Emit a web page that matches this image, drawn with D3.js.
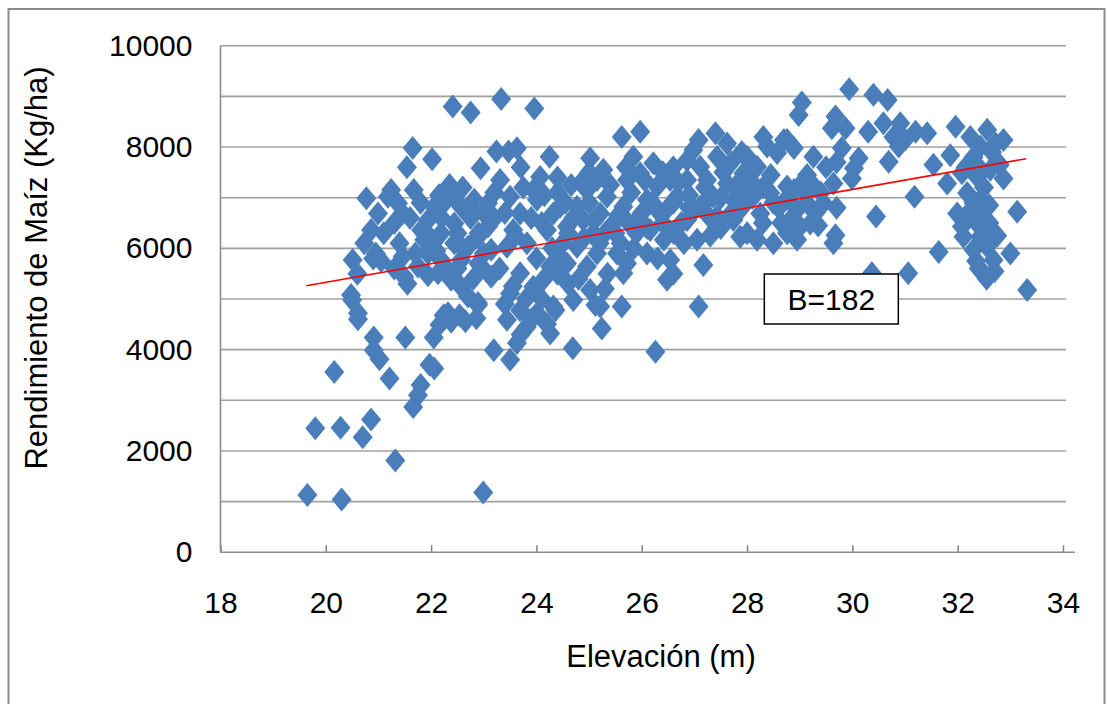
<!DOCTYPE html>
<html><head><meta charset="utf-8">
<script src="https://cdn.jsdelivr.net/npm/d3@7/dist/d3.min.js"></script>
<style>
body{margin:0;background:#fff;}
svg text{font-family:"Liberation Sans",Arial,sans-serif;fill:#000;}
</style></head>
<body><svg id="c" width="1108" height="704"></svg>
<script>
// Elevación (m) / Rendimiento (Kg/ha) pairs
const grupoIzquierdo = [
[19.65,1130],[19.8,2450],[20.3,1040],[20.28,2460],[20.16,3560],[20.5,4980],[20.61,4600],[20.51,5770],[20.48,5080],[20.7,2270],
[20.86,2620],[20.91,4240],[20.91,3990],[21.02,3810],[21.21,3430],[21.32,1810],[21.51,4240],[21.66,2870],[21.75,3100],[21.8,3300],
[21.97,3700],[22.06,3630],[22.05,4240],[22.16,4490],[22.24,4680],[22.38,4550],[22.54,4680],[22.86,4620],[22.89,4880],[22.99,1180],
[23.19,3990],[22.41,8800],[22.75,8680],[21.65,7980],[22.02,7760],[21.54,7600],[20.77,6990],[21.24,7150],[21.67,7150],[22.94,7580],
[20.61,4720],[20.73,6100],[20.86,6360],[20.99,6690],[21.18,7020],[21.37,6890],[21.46,6690],[21.46,5840],[21.49,5440],[21.75,5640],
[21.94,5470],[22.13,5510],[22.38,5380],[22.57,5240],[22.7,5050],[22.32,4720],[22.89,4920],[22.95,5640],[23.14,5440],[21.81,6360],
[21.94,6560],[21.87,6170],[22.06,6820],[22.32,7150],[22.44,7020],[22.57,6820],[22.82,6960],[23.08,6890],[22.44,6490],[22.19,6300],
[22.44,6100],[22.7,6030],[22.89,6230],[23.08,6430],[23.14,5970],[22.57,5770],[22.19,5770],[21.94,5900],
[20.6,5500],[20.95,5900],[21.1,6300],[21.3,5600],[21.6,6600],[21.7,5900],[22.0,6200],[22.25,6900],[22.3,5600],[22.5,6300],
[22.6,7200],[22.75,6600],[22.8,5400],[23.0,6700],[23.0,5900],[22.15,7050],[21.55,5300],[22.65,4560],[22.9,6300],[21.05,5750],
[22.35,7250],[20.9,5800],
[22.2,6600],[22.6,6000],[22.8,6750],[23.2,6600],[22.1,5950],[21.8,6900],[22.5,5600],[21.3,6500],[21.4,6100],[22.9,5700],
[23.2,7100]
];
const grupoCentral = [
[23.33,8950],[23.96,8760],[25.62,8200],[25.97,8300],[27.08,8140],[27.4,8270],[28.31,8200],[23.63,7975],[24.25,7810],[25.02,7780],
[24.66,7250],[23.47,7910],[23.24,7910],
[23.31,7350],[23.5,7020],[23.69,6690],[23.56,6360],[23.44,6030],[23.82,6100],[23.94,7150],[24.07,7410],[24.01,6960],[24.32,6690],
[24.2,6360],[24.45,6820],[24.58,6430],[24.77,6820],[24.89,6560],[24.96,7150],[25.15,7350],[25.27,7550],[25.34,7020],[25.21,6690],
[25.08,6300],[25.46,6490],[25.65,6820],[25.72,7350],[25.84,7810],[25.97,7480],[26.22,7680],[26.29,7220],[26.1,6960],[25.91,6560],
[26.35,6690],[26.54,7350],[26.67,7020],[26.86,7350],[26.86,7740],[26.98,7940],[27.11,7610],[27.24,7350],[27.43,7810],[27.62,8070],
[27.36,7020],[27.11,6820],[26.86,6560],[26.61,6300],[26.42,6170],[26.16,6360],[27.62,7280],[27.74,6960],[28.0,7810],[27.93,7480],
[28.19,7610],[28.38,8010],[28.57,7880],[28.7,8140],[28.76,7220],[28.44,7090],[28.25,6690],[28.0,6300],[28.19,6170],[28.5,6100],
[28.76,6300],[27.74,6560],[27.43,6630],[27.05,6170],[27.17,5670],[26.48,5380],[26.54,5770],[26.1,5900],[25.72,5700],[25.53,5900],
[25.65,5510],[25.15,5900],[24.96,5640],[24.77,6030],[24.58,5700],[24.39,5900],[24.26,5640],[24.13,5380],[23.94,5240],[23.69,5510],
[23.5,5110],[23.69,4780],[24.32,4850],[24.7,4980],[25.02,5180],[25.21,4850],[25.62,4850],[27.08,4850],[27.87,6230],
[23.5,3800],[23.63,4130],[23.44,4590],[23.82,4450],[24.01,4720],[24.26,4320],[24.36,4780],[24.69,4030],[25.12,4880],[25.24,4420],
[26.26,3960],
[23.4,6700],[23.75,7200],[24.1,6500],[24.4,7100],[24.5,6100],[24.7,6600],[24.85,7300],[25.0,6900],[25.3,6300],[25.4,7250],
[25.55,6650],[25.8,7100],[25.9,6300],[26.05,7350],[26.2,6900],[26.4,7500],[26.5,6800],[26.7,7300],[26.75,6500],[26.9,7050],
[27.0,6750],[27.2,7200],[27.3,6600],[27.5,7000],[27.55,7500],[27.8,7250],[27.9,6800],[28.1,7300],[28.3,6500],[28.45,7450],
[28.6,6800],[28.65,6500],[24.0,5800],[24.6,5300],[25.35,5500],[25.85,6000],[26.3,5800],[26.6,5500],[23.6,6250],[23.9,6600],
[24.15,7050],[24.55,6900],[25.1,6550],[25.6,6100],[26.0,6700],[26.8,6100],[27.3,6250],[27.7,7700],[28.1,7000],[23.7,7600],
[23.55,5250],[23.7,4300],[23.9,4600],[24.1,5000],[24.2,4500],[23.8,5000],
[24.3,6000],[24.6,6300],[24.9,6200],[25.2,6100],[25.5,6300],[25.75,6500],[26.1,6400],[26.4,6500],[26.6,6900],[26.9,6800],
[27.2,6900],[27.5,6400],[27.7,6700],[27.95,7100],[28.3,7200],[28.5,6900],[24.4,7400],[25.0,7500],[25.7,7600],[26.6,7600],
[27.9,7900],[23.3,5600],[23.4,4900],[24.4,5500],[24.8,5400],[25.3,5200]
];
const grupoDerecho = [
[29.94,9140],[30.4,9030],[30.67,8930],[29.04,8880],[28.98,8630],[29.68,8600],[29.61,8370],[29.87,8370],[30.59,8470],[30.91,8470],
[31.2,8300],[31.42,8270],[30.78,8200],[30.88,8010],[31.96,8400],[32.24,8200],[32.56,8340],[32.87,8140],[32.43,8010],[32.72,8070],
[28.76,8140],[28.89,7980],[29.26,7810],[29.8,7980],[30.12,7780],[30.03,7580],[30.69,7710],[31.54,7650],[31.86,7840],[29.14,7450],
[29.01,7250],[28.89,7150],[28.76,6990],[29.64,7280],[29.99,7380],[29.45,6890],[29.14,6890],[28.95,6760],[29.01,6430],[29.2,6490],
[28.82,6360],[28.95,6170],[29.68,6260],[29.64,6100],[30.45,6630],[31.18,7020],[31.8,7280],[32.08,7480],[32.37,7410],[32.62,7550],
[32.87,7380],[32.18,7090],[32.43,6960],[32.49,6760],[31.99,6690],[32.08,6430],[32.37,6490],[32.43,6230],[32.11,6230],[32.3,5970],
[32.56,6030],[32.68,5770],[32.49,5510],[33.0,5900],[33.13,6720],[33.32,5180],[31.64,5930],[31.06,5510],[30.37,5510],
[32.2,6700],[32.5,7200],[32.6,6500],[32.35,5750],[32.75,6250],[32.3,7800],[32.65,7900],[32.55,5400],[32.8,7650],[32.15,7600],
[32.4,5600],[32.7,5550],[29.1,7100],[29.3,6700],[29.25,7250],[28.85,6600],[29.5,7600],[29.7,7700],[30.3,8300],[31.0,8150],
[29.4,7100],[29.35,6450],[29.7,6800],[32.3,6900],[32.5,6350],[32.6,6850],[32.4,7600]
];
const tendenciaX = [19.63, 33.30];
const tendenciaY = [5260, 7770];
const ticksX = [18,20,22,24,26,28,30,32,34];
const ticksY = [0,2000,4000,6000,8000,10000];
const lineasY = [1000,2000,3000,4000,5000,6000,7000,8000,9000,10000];
const etiquetaB = "B=182";
const posB = [29.6, 5000];

const svg = d3.select("#c");
const x = d3.scaleLinear().domain([18,34]).range([220.5,1063]);
const y = d3.scaleLinear().domain([0,10000]).range([552.3,45.7]);

// outer border
svg.append("rect").attr("x",8.5).attr("y",9).attr("width",1096).attr("height",710)
  .attr("fill","none").attr("stroke","#8c8c8c").attr("stroke-width",2);

// gridlines
svg.append("g").selectAll("line").data(lineasY).join("line")
  .attr("x1",x(18)).attr("x2",1066).attr("y1",d=>y(d)).attr("y2",d=>y(d))
  .attr("stroke","#a0a0a0").attr("stroke-width",1.6);

// axes
const gx = svg.append("g").attr("transform",`translate(0,${y(0)})`)
  .call(d3.axisBottom(x).tickValues(ticksX).tickSize(-7).tickSizeOuter(0).tickPadding(39).tickFormat(d3.format("d")));
gx.select(".domain").remove();
gx.selectAll(".tick line").attr("stroke","#808080").attr("stroke-width",1.5);
gx.selectAll(".tick text").attr("font-size",30).style("font-family","Liberation Sans, Arial, sans-serif");
svg.append("line").attr("x1",x(18)).attr("x2",1075).attr("y1",y(0)).attr("y2",y(0))
  .attr("stroke","#8c8c8c").attr("stroke-width",1.6);

const gy = svg.append("g").attr("transform",`translate(${x(18)},0)`)
  .call(d3.axisLeft(y).tickValues(ticksY).tickSize(0).tickPadding(28).tickFormat(d3.format("d")));
gy.select(".domain").remove();
gy.selectAll(".tick text").attr("font-size",30).style("font-family","Liberation Sans, Arial, sans-serif");
svg.append("line").attr("x1",x(18)).attr("x2",x(18)).attr("y1",y(10000)).attr("y2",y(0))
  .attr("stroke","#8c8c8c").attr("stroke-width",1.6);

// points
const diamond = "M0,-12L10,0L0,12L-10,0Z";
const todos = grupoIzquierdo.concat(grupoCentral, grupoDerecho);
svg.append("g").selectAll("path").data(todos).join("path")
  .attr("d",diamond)
  .attr("transform",d=>`translate(${x(d[0])},${y(d[1])})`)
  .attr("fill","#4A7EBB");

// trend line
svg.append("line")
  .attr("x1",x(tendenciaX[0])).attr("y1",y(tendenciaY[0]))
  .attr("x2",x(tendenciaX[1])).attr("y2",y(tendenciaY[1]))
  .attr("stroke","#ff0000").attr("stroke-width",1.6);

// annotation box
const bx = x(posB[0]), by = y(posB[1]);
svg.append("rect").attr("x",bx-67).attr("y",by-25).attr("width",134).attr("height",50)
  .attr("fill","#fff").attr("stroke","#000").attr("stroke-width",1.5);
svg.append("text").attr("x",bx).attr("y",by+11).attr("text-anchor","middle")
  .attr("font-size",30).text(etiquetaB);

// titles
svg.append("text").attr("x",661).attr("y",667).attr("text-anchor","middle")
  .attr("font-size",31).text("Elevación (m)");
svg.append("text").attr("transform","translate(47,268) rotate(-90)").attr("text-anchor","middle")
  .attr("font-size",31).text("Rendimiento de Maíz (Kg/ha)");
</script></body></html>
